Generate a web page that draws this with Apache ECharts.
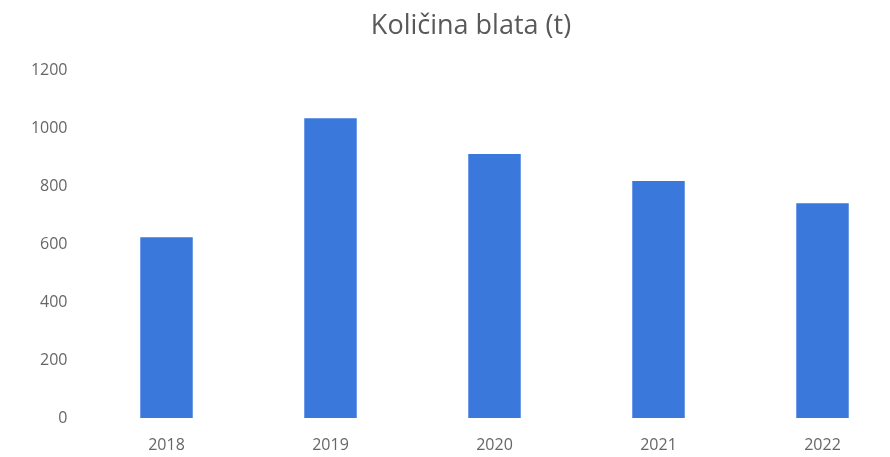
<!DOCTYPE html>
<html>
<head>
<meta charset="utf-8">
<script src="https://cdn.jsdelivr.net/npm/echarts@6/dist/echarts.min.js"></script>
<style>
  html, body { margin: 0; padding: 0; background: #fff; }
  #chart { width: 890px; height: 457px; }
</style>
</head>
<body>
<div id="chart"></div>
<script>
const years = ['2018', '2019', '2020', '2021', '2022']
const mudTons = [624, 1035, 912, 818, 742]
const yTicks = { min: 0, max: 1200, interval: 200 }

const chart = echarts.init(document.getElementById('chart'))

chart.setOption({
  backgroundColor: '#fff',
  animation: false,
  title: {
    text: 'Količina blata (t)',
    left: 466,
    textAlign: 'center',
    top: 8,
    textStyle: {
      fontFamily: 'Open Sans',
      fontSize: 27,
      fontWeight: 'normal',
      color: '#595959'
    }
  },
  grid: {
    left: 84.5,
    width: 820,
    top: 70.5,
    bottom: 39,
    outerBoundsMode: 'none',
    containLabel: false
  },
  xAxis: {
    type: 'category',
    data: years,
    axisLine: { show: false },
    axisTick: { show: false },
    axisLabel: {
      margin: 19,
      fontFamily: 'Open Sans',
      fontSize: 16,
      color: '#666'
    }
  },
  yAxis: {
    type: 'value',
    min: yTicks.min,
    max: yTicks.max,
    interval: yTicks.interval,
    splitLine: { show: false },
    axisLine: { show: false },
    axisTick: { show: false },
    axisLabel: {
      margin: 17,
      fontFamily: 'Open Sans',
      fontSize: 16,
      color: '#666',
      formatter: (v) => String(v)
    }
  },
  series: [
    {
      type: 'bar',
      data: mudTons,
      barWidth: '32%',
      itemStyle: { color: '#3b78dc' }
    }
  ]
})
</script>
</body>
</html>
